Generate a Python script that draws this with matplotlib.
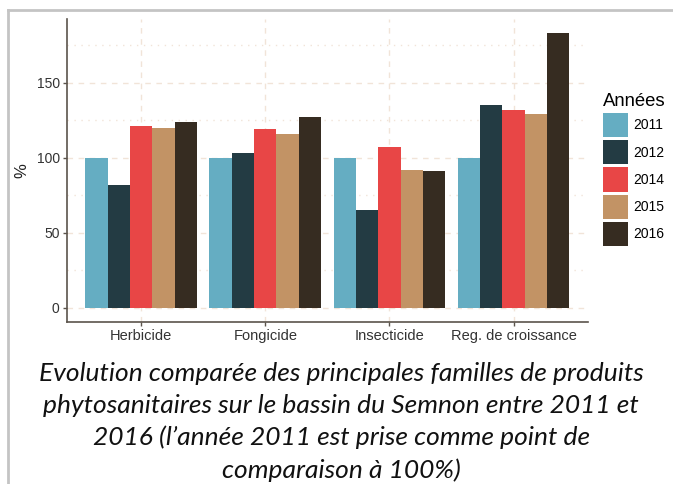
import numpy as np
import matplotlib
matplotlib.use("Agg")
import matplotlib.pyplot as plt
from matplotlib.patches import Patch
from matplotlib.ticker import MultipleLocator
from matplotlib.lines import Line2D

categories = ["Herbicide", "Fongicide", "Insecticide", "Reg. de croissance"]
years = ["2011", "2012", "2014", "2015", "2016"]
values_2011 = [100, 100, 100, 100]
values_2012 = [82, 103, 65, 135]
values_2014 = [121, 119, 107, 132]
values_2015 = [120, 116, 92, 129]
values_2016 = [124, 127, 91, 183]
colors = ["#65ADC2", "#233B43", "#E84646", "#C29365", "#362C21"]

caption = ("Evolution comparée des principales familles de produits\n"
           "phytosanitaires sur le bassin du Semnon entre 2011 et\n"
           "2016 (l\u2019année 2011 est prise comme point de\n"
           "comparaison à 100%)")

plt.rcParams["font.family"] = ["Liberation Sans", "DejaVu Sans"]

fig = plt.figure(figsize=(6.73, 4.84), dpi=100)
ax = fig.add_axes([0.0991, 0.3353, 0.8737 - 0.0991, 0.960 - 0.3353])

series = [values_2011, values_2012, values_2014, values_2015, values_2016]
x = np.arange(1, len(categories) + 1)
w = 0.9 / len(years)
for i, (vals, col) in enumerate(zip(series, colors)):
    ax.bar(x - 0.45 + w * (i + 0.5), vals, width=w, color=col, linewidth=0, zorder=3)

ax.set_xlim(0.4, 4.6)
ax.set_ylim(-9.15, 192.2)
ax.set_xticks(x)
ax.set_xticklabels(categories)
ax.yaxis.set_major_locator(MultipleLocator(50))
ax.yaxis.set_minor_locator(MultipleLocator(25))

grid_col = "#f1e4d8"
ax.grid(True, which="major", axis="both", color=grid_col, linestyle=(0, (4, 4)), linewidth=1.0, zorder=0)
ax.grid(True, which="minor", axis="y", color=grid_col, linestyle=(0, (1, 4)), linewidth=1.0, zorder=0)
ax.tick_params(axis="y", which="minor", length=0)

axis_col = "#5b544c"
for s in ["top", "right"]:
    ax.spines[s].set_visible(False)
for s in ["left", "bottom"]:
    ax.spines[s].set_color(axis_col)
    ax.spines[s].set_linewidth(1.2)
ax.tick_params(axis="both", which="major", length=3, width=1, color=axis_col,
               labelcolor="#333333", pad=2)
ax.tick_params(axis="x", labelsize=10.5)
ax.tick_params(axis="y", labelsize=10)
ax.set_ylabel("%", fontsize=12, color="#222222", labelpad=5)

handles = [Patch(facecolor=c, edgecolor="none") for c in colors]
leg = fig.legend(handles, years, loc="upper left", bbox_to_anchor=(0.8955, 0.808),
                 frameon=False, fontsize=10, title="Années", title_fontsize=13.3,
                 handlelength=1.85, handleheight=2.3, labelspacing=0.22,
                 handletextpad=0.35, borderpad=0, borderaxespad=0)
leg._legend_box.align = "left"

fig.text(0.507, 0.128, caption, ha="center", va="center", fontsize=19,
         family=["Lato", "DejaVu Sans"], style="italic", linespacing=1.45,
         color="#111111")

# frame lines around the figure (top and left)
fig.add_artist(Line2D([0.012, 1.0], [0.979, 0.979], transform=fig.transFigure,
                      color="#c4c4c4", linewidth=2))
fig.add_artist(Line2D([0.012, 0.012], [0.0, 0.979], transform=fig.transFigure,
                      color="#c4c4c4", linewidth=2))

fig.savefig("out.png", dpi=100)
